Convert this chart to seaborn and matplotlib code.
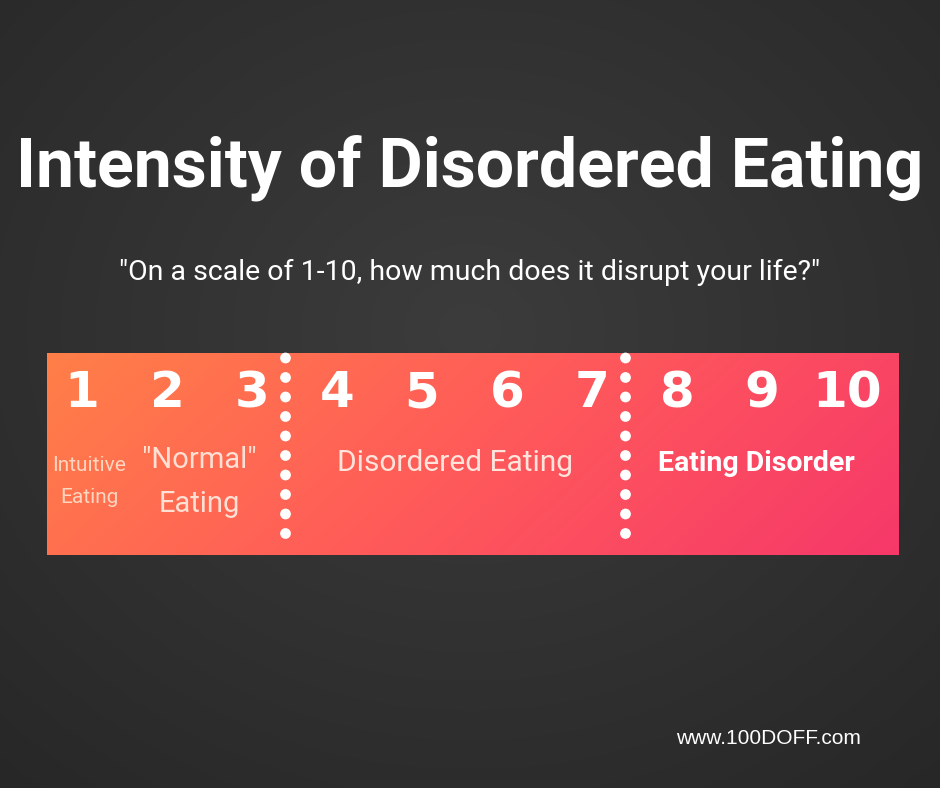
import numpy as np
import matplotlib
matplotlib.use("Agg")
import matplotlib.pyplot as plt
import seaborn as sns
import pandas as pd
from matplotlib.colors import LinearSegmentedColormap

title = "Intensity of Disordered Eating"
subtitle = "\"On a scale of 1-10, how much does it disrupt your life?\""
scale_values = [1, 2, 3, 4, 5, 6, 7, 8, 9, 10]
separators = [3.5, 7.5]
footer = "www.100DOFF.com"

sns.set_theme(style="white")
fig = plt.figure(figsize=(9.4, 7.88), dpi=100)
ax = fig.add_axes([0, 0, 1, 1])
ax.set_xlim(0, 940); ax.set_ylim(788, 0); ax.axis("off")

# background radial gradient
yy, xx = np.mgrid[0:788, 0:940]
r = np.sqrt(((xx - 470) / 700) ** 2 + ((yy - 330) / 600) ** 2)
bg = np.clip(0.235 - 0.08 * r, 0.14, 0.24)
ax.imshow(np.dstack([bg, bg, bg]), extent=[0, 940, 788, 0], zorder=0)

# bar gradient
cmap = LinearSegmentedColormap.from_list("g", ["#ff7f48", "#ff5a5a", "#f6386a"])
by, bx = np.mgrid[0:202, 0:852]
g = (bx / 852) * 0.8 + (by / 202) * 0.2
ax.imshow(cmap(g), extent=[47, 899, 555, 353], zorder=1)

def px(v):
    return 85 * v - 3

for v in scale_values:
    ax.text(px(v), 393, str(v), color="white", fontsize=36, fontweight="black",
            family="DejaVu Sans", ha="center", va="center", zorder=3)

dots = pd.DataFrame([(px(s) - 9, y) for s in separators for y in np.arange(358, 545, 19.5)],
                    columns=["x", "y"])
sns.scatterplot(data=dots, x="x", y="y", color="white", s=60, edgecolor="none", ax=ax, zorder=3)

ax.text(470, 168, title, color="white", fontsize=49, fontweight="bold", family="Roboto",
        ha="center", va="center")
ax.text(470, 272, subtitle, color="white", fontsize=20.5, family="Roboto", ha="center", va="center")
ax.text(89, 465, "Intuitive", color="#ffd6c0", fontsize=15, family="Roboto", ha="center", va="center", zorder=3)
ax.text(89, 497, "Eating", color="#ffd6c0", fontsize=15, family="Roboto", ha="center", va="center", zorder=3)
ax.text(199, 460, "\"Normal\"", color="#ffe0d4", fontsize=21, family="Roboto", ha="center", va="center", zorder=3)
ax.text(199, 504, "Eating", color="#ffe0d4", fontsize=21, family="Roboto", ha="center", va="center", zorder=3)
ax.text(455, 463, "Disordered Eating", color="#ffe4dc", fontsize=21.5, family="Roboto", ha="center", va="center", zorder=3)
ax.text(756, 463, "Eating Disorder", color="white", fontsize=20.5, fontweight="bold", family="Roboto", ha="center", va="center", zorder=3)
ax.text(768, 738, footer, color="white", fontsize=15, family="Liberation Sans", ha="center", va="center")
ax.set_xlabel(""); ax.set_ylabel("")
fig.savefig("out.png", dpi=100)
